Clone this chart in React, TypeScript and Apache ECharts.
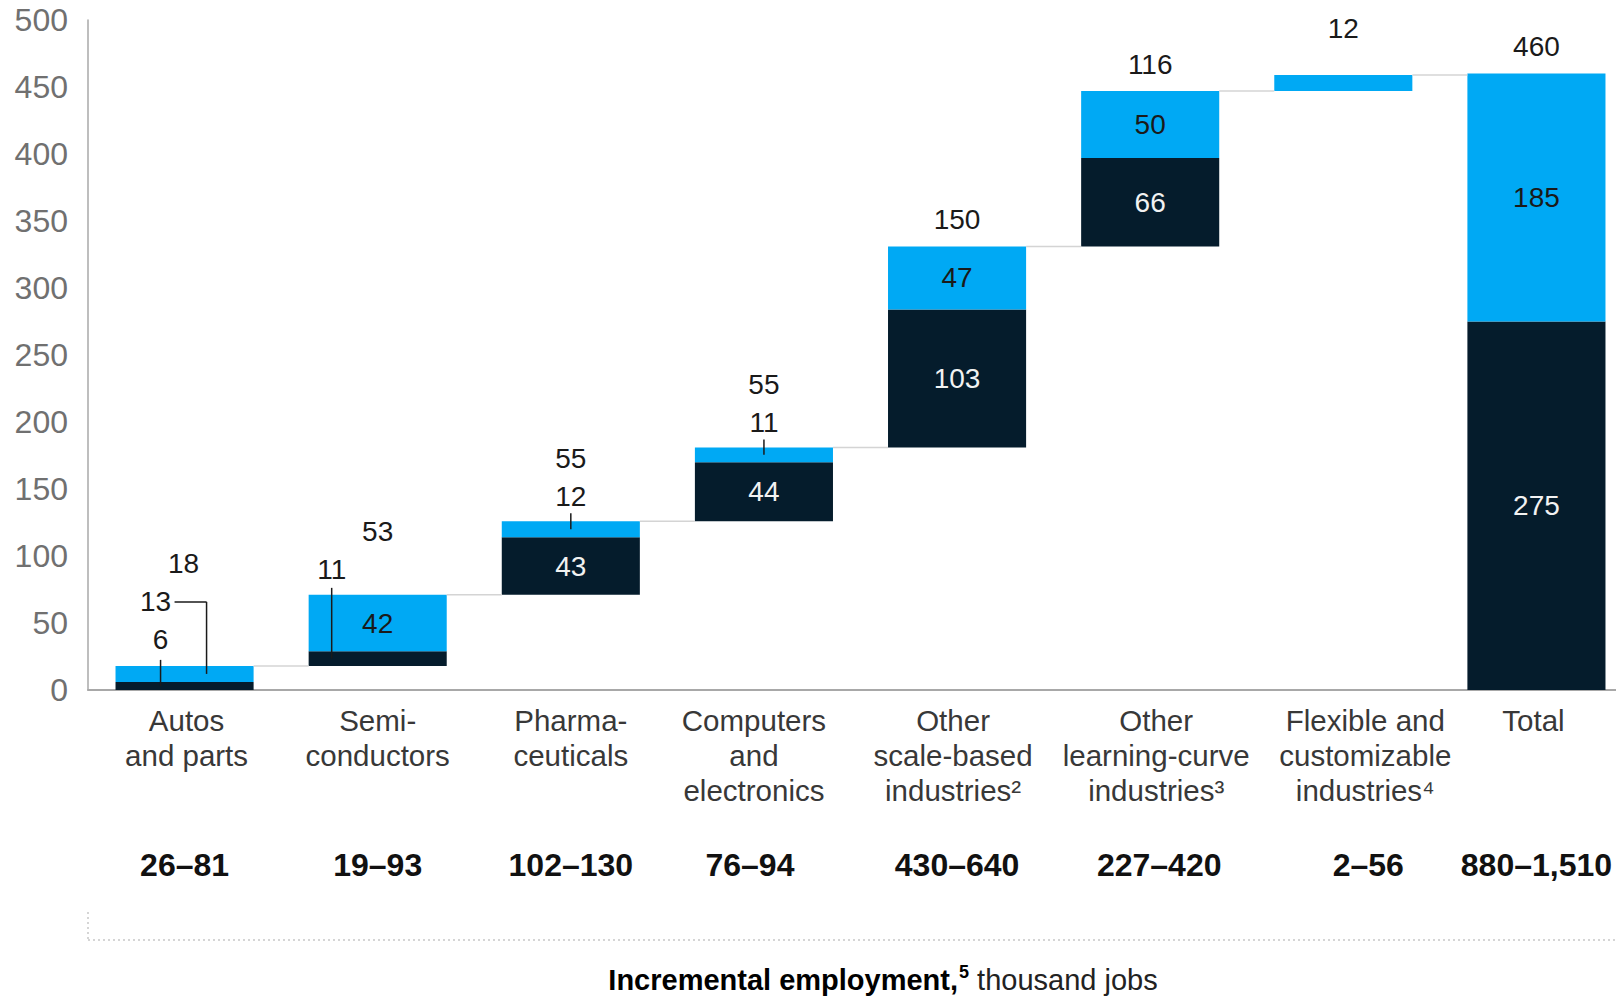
import React, { useEffect, useRef } from "react";
import * as echarts from "echarts";

const FONT = '"Liberation Sans", Arial, sans-serif';

const categories = [
  "Autos\nand parts",
  "Semi-\nconductors",
  "Pharma-\nceuticals",
  "Computers\nand\nelectronics",
  "Other\nscale-based\nindustries²",
  "Other\nlearning-curve\nindustries³",
  "Flexible and\ncustomizable\nindustries⁴",
  "Total",
];
const ranges = ["26–81", "19–93", "102–130", "76–94", "430–640", "227–420", "2–56", "880–1,510"];
const totals = [18, 53, 55, 55, 150, 116, 12, 460];
const darkValues = [6, 11, 43, 44, 103, 66, 0, 275];
const blueValues = [13, 42, 12, 11, 47, 50, 12, 185];
const isTotal = [false, false, false, false, false, false, false, true];
const labelModes = ["stack", "side", "tick", "tick", "inside", "inside", "topHigh", "inside"];
const catShift = [2, 0, 0, -10, -4, 6, 22, -3];
const rangeShift = [0, 0, 0, -14, 0, 9, 25, 0];

const DARK = "#051C2C";
const BLUE = "#00A9F4";

const bases: number[] = [];
{
  let run = 0;
  totals.forEach((t, i) => {
    if (isTotal[i]) bases.push(0);
    else {
      bases.push(run);
      run += t;
    }
  });
}
const darkBar = darkValues.map((d) => d);
const blueBar = totals.map((t, i) => t - darkValues[i]);

const shifted = (vals: string[], shifts: number[]) =>
  vals.map((v, i) => {
    const s = shifts[i];
    return {
      value: v,
      textStyle: { padding: s >= 0 ? [0, 0, 0, 2 * s] : [0, -2 * s, 0, 0] },
    };
  });

export default function App() {
  const ref = useRef<HTMLDivElement>(null);
  useEffect(() => {
    if (!ref.current) return;
    const chart = echarts.init(ref.current, undefined, { renderer: "svg" });
    const BAR_RATIO = 0.715;
    const txt = (text: string, x: number, y: number, fill: string) => ({
      type: "text",
      x,
      y,
      style: {
        text,
        fill,
        fontSize: 28,
        fontFamily: FONT,
        align: "center",
        verticalAlign: "middle",
        textAlign: "center",
        textVerticalAlign: "middle",
      },
    });
    const ln = (x1: number, y1: number, x2: number, y2: number, stroke: string) => ({
      type: "line",
      shape: { x1, y1, x2, y2 },
      style: { stroke, lineWidth: 1.5 },
    });

    const option: any = {
      animation: false,
      grid: { left: 88, right: 7, top: 20, bottom: 308 },
      xAxis: [
        {
          type: "category",
          data: shifted(categories, catShift),
          axisLine: { lineStyle: { color: "#a8a8a8", width: 2 } },
          axisTick: { show: false },
          axisLabel: {
            margin: 13,
            fontSize: 29.5,
            lineHeight: 35,
            color: "#383838",
            fontFamily: FONT,
            interval: 0,
          },
        },
        {
          type: "category",
          position: "bottom",
          data: shifted(ranges, rangeShift),
          axisLine: { show: false },
          axisTick: { show: false },
          axisLabel: {
            margin: 159,
            fontSize: 32,
            fontWeight: "bold",
            color: "#111",
            fontFamily: FONT,
            interval: 0,
          },
        },
      ],
      yAxis: {
        type: "value",
        min: 0,
        max: 500,
        interval: 50,
        axisLine: { show: true, lineStyle: { color: "#a8a8a8", width: 1.5 } },
        axisTick: { show: false },
        splitLine: { show: false },
        axisLabel: { fontSize: 32, color: "#707070", margin: 20, fontFamily: FONT },
      },
      series: [
        {
          type: "bar",
          stack: "w",
          data: bases,
          barWidth: BAR_RATIO * 100 + "%",
          itemStyle: { color: "transparent" },
          silent: true,
        },
        {
          type: "bar",
          stack: "w",
          data: darkBar,
          itemStyle: { color: DARK },
        },
        {
          type: "bar",
          stack: "w",
          data: blueBar,
          itemStyle: { color: BLUE },
        },
        {
          type: "custom",
          silent: true,
          z: 10,
          clip: false,
          data: totals.map((t, i) => [i, bases[i] + t]),
          encode: { x: 0, y: 1 },
          renderItem: (params: any, api: any) => {
            const i = params.dataIndex;
            const bw = api.size([1, 0])[0] * BAR_RATIO;
            const cx = api.coord([i, 0])[0];
            const yv = (v: number) => api.coord([i, v])[1];
            const top = yv(bases[i] + totals[i]);
            const darkMid = yv(bases[i] + darkValues[i] / 2);
            const blueMid = yv(bases[i] + (darkValues[i] + totals[i]) / 2);
            const children: any[] = [];
            const ink = "#1a1a1a";
            const mode = labelModes[i];
            if (i < totals.length - 1) {
              const nx = api.coord([i + 1, 0])[0];
              children.push(ln(cx + bw / 2, top, nx - bw / 2, top, "#d4d4d4"));
            }
            if (mode === "inside") {
              if (darkValues[i] > 0) children.push(txt(String(darkValues[i]), cx, darkMid, "#f2f2f2"));
              children.push(txt(String(blueValues[i]), cx, blueMid, ink));
              children.push(txt(String(totals[i]), cx, top - 27, ink));
            } else if (mode === "tick") {
              children.push(txt(String(darkValues[i]), cx, darkMid, "#f2f2f2"));
              children.push(txt(String(blueValues[i]), cx, top - 25, ink));
              children.push(ln(cx, top - 8, cx, blueMid, ink));
              children.push(txt(String(totals[i]), cx, top - 63, ink));
            } else if (mode === "side") {
              children.push(txt(String(blueValues[i]), cx, blueMid, ink));
              children.push(txt(String(darkValues[i]), cx - 46, top - 25, ink));
              children.push(ln(cx - 46, top - 7, cx - 46, darkMid, ink));
              children.push(txt(String(totals[i]), cx, top - 63, ink));
            } else if (mode === "stack") {
              children.push(txt(String(darkValues[i]), cx - 24, top - 26, ink));
              children.push(ln(cx - 24, top - 6, cx - 24, darkMid, ink));
              children.push(txt(String(blueValues[i]), cx - 29, top - 64, ink));
              children.push(ln(cx - 10, top - 64, cx + 22, top - 64, ink));
              children.push(ln(cx + 22, top - 64, cx + 22, blueMid, ink));
              children.push(txt(String(totals[i]), cx - 1, top - 102, ink));
            } else if (mode === "topHigh") {
              children.push(txt(String(totals[i]), cx, top - 46, ink));
            }
            return { type: "group", children };
          },
        },
      ],
      graphic: [
        {
          type: "line",
          shape: { x1: 88, y1: 940, x2: 1640, y2: 940 },
          style: { stroke: "#c8c8c8", lineWidth: 1.5, lineDash: [2, 3] },
          silent: true,
        },
        {
          type: "line",
          shape: { x1: 88, y1: 912, x2: 88, y2: 940 },
          style: { stroke: "#c8c8c8", lineWidth: 1.5, lineDash: [2, 3] },
          silent: true,
        },
        {
          type: "text",
          x: 883,
          y: 980,
          style: {
            text: "{b|Incremental employment,}{s|5}{r| thousand jobs}",
            align: "center",
            verticalAlign: "middle",
            textAlign: "center",
            textVerticalAlign: "middle",
            rich: {
              b: { fontSize: 29, fontWeight: "bold", fill: "#000", fontFamily: FONT, lineHeight: 34 },
              s: { fontSize: 18, fontWeight: "bold", fill: "#000", fontFamily: FONT, lineHeight: 34, verticalAlign: "top", padding: [0, 0, 0, 1] },
              r: { fontSize: 29, fill: "#222", fontFamily: FONT, lineHeight: 34 },
            },
          },
        },
      ],
    };
    chart.setOption(option);
    return () => chart.dispose();
  }, []);
  return (
    <div
      style={{
        position: "fixed",
        left: 0,
        top: 0,
        width: 1616,
        height: 998,
        overflow: "hidden",
        background: "#fff",
      }}
    >
      <div ref={ref} style={{ width: 1640, height: 998 }} />
    </div>
  );
}
